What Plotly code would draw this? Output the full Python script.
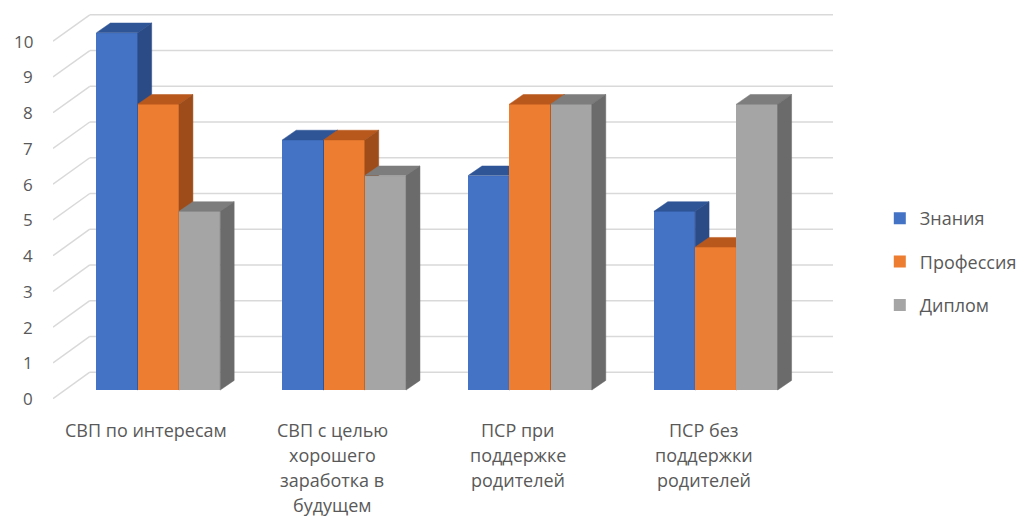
import plotly.graph_objects as go

# ---- data ----
categories = ["СВП по интересам", "СВП с целью<br>хорошего<br>заработка в<br>будущем",
              "ПСР при<br>поддержке<br>родителей", "ПСР без<br>поддержки<br>родителей"]
series_names = ["Знания", "Профессия", "Диплом"]
znaniya = [10, 7, 6, 5]
professiya = [8, 7, 8, 4]
diplom = [5, 6, 8, 8]
y_ticks = list(range(0, 11))

# ---- style ----
front_colors = ["#4472C4", "#ED7D31", "#A5A5A5"]
top_colors = ["#2F5597", "#B9581D", "#7D7D7D"]
side_colors = ["#2A4B86", "#9E4C19", "#6B6B6B"]
TEXT = "#595959"
GRID = "#D9D9D9"
FONT = "Open Sans"

BAR_W = 0.222          # width of one bar (category units)
DX, DY = 0.075, 0.27   # depth of bar (x units, y units)
BACK_DY = 0.5          # back wall offset (y units)
XMIN, XMAX = -0.567, 3.631
YMIN, YMAX = -0.25, 10.55
WALL_X = -0.369

xs = list(range(len(categories)))
all_series = [znaniya, professiya, diplom]

fig = go.Figure()

for s, (name, vals) in enumerate(zip(series_names, all_series)):
    axn = "" if s == 0 else str(s + 1)
    offset = (s - 1.5) * BAR_W
    fig.add_trace(go.Bar(
        x=xs, y=vals, name=name, width=BAR_W, offset=offset,
        marker=dict(color=front_colors[s], line=dict(width=0)),
        xaxis="x" + axn, yaxis="y" + axn, legendgroup=name,
        hoverinfo="skip"))
    top_x, top_y, side_x, side_y = [], [], [], []
    for xi, v in zip(xs, vals):
        x0 = xi + offset
        x1 = x0 + BAR_W
        top_x += [x0, x1, x1 + DX, x0 + DX, x0, None]
        top_y += [v, v, v + DY, v + DY, v, None]
        side_x += [x1, x1, x1 + DX, x1 + DX, x1, None]
        side_y += [0, v, v + DY, DY, 0, None]
    fig.add_trace(go.Scatter(x=top_x, y=top_y, fill="toself", mode="lines",
                             line=dict(width=0.5, color=top_colors[s]),
                             fillcolor=top_colors[s], showlegend=False,
                             hoverinfo="skip", xaxis="x" + axn, yaxis="y" + axn))
    fig.add_trace(go.Scatter(x=side_x, y=side_y, fill="toself", mode="lines",
                             line=dict(width=0.5, color=side_colors[s]),
                             fillcolor=side_colors[s], showlegend=False,
                             hoverinfo="skip", xaxis="x" + axn, yaxis="y" + axn))

# back wall gridlines + side wall diagonals
shapes = []
for v in y_ticks:
    shapes.append(dict(type="line", xref="x", yref="y", x0=WALL_X, x1=XMAX,
                       y0=v + BACK_DY, y1=v + BACK_DY,
                       line=dict(color=GRID, width=1.5), layer="below"))
    shapes.append(dict(type="line", xref="x", yref="y", x0=XMIN, x1=WALL_X,
                       y0=v - 0.24, y1=v + BACK_DY,
                       line=dict(color=GRID, width=1.5), layer="below"))

# category labels, line by line
annotations = []
for xi, cat in zip(xs, categories):
    for k, line in enumerate(cat.split("<br>")):
        annotations.append(dict(x=xi - 0.064, y=0, xref="x", yref="paper",
                                text=line, showarrow=False, xanchor="center",
                                yanchor="middle", yshift=-(31 + 25 * k),
                                font=dict(family=FONT, size=18, color=TEXT)))
# value labels at the ends of the side-wall diagonals
for v in y_ticks:
    annotations.append(dict(x=XMIN, y=v - 0.24, xref="x", yref="y",
                            text=str(v), showarrow=False, xanchor="right",
                            yanchor="middle", xshift=-18,
                            font=dict(family=FONT, size=17, color=TEXT)))

hidden = dict(range=[XMIN, XMAX], visible=False, fixedrange=True)
hidden_y = dict(range=[YMIN, YMAX], visible=False, fixedrange=True)

fig.update_layout(
    width=1019, height=510,
    margin=dict(l=45, r=189, t=5, b=119),
    paper_bgcolor="white", plot_bgcolor="white",
    font=dict(family=FONT, size=18, color=TEXT),
    xaxis=dict(range=[XMIN, XMAX], showgrid=False, zeroline=False,
               showticklabels=False, showline=False, fixedrange=True),
    yaxis=dict(range=[YMIN, YMAX], showgrid=False, zeroline=False,
               showticklabels=False, showline=False, fixedrange=True),
    xaxis2=dict(hidden, overlaying="x"), yaxis2=dict(hidden_y, overlaying="y"),
    xaxis3=dict(hidden, overlaying="x"), yaxis3=dict(hidden_y, overlaying="y"),
    shapes=shapes, annotations=annotations,
    legend=dict(x=1.06, y=0.355, xanchor="left", yanchor="middle",
                font=dict(family=FONT, size=18, color=TEXT),
                tracegroupgap=17, itemwidth=30, bgcolor="rgba(0,0,0,0)"),
    showlegend=True, bargap=0,
)

fig.write_html("out.html")
